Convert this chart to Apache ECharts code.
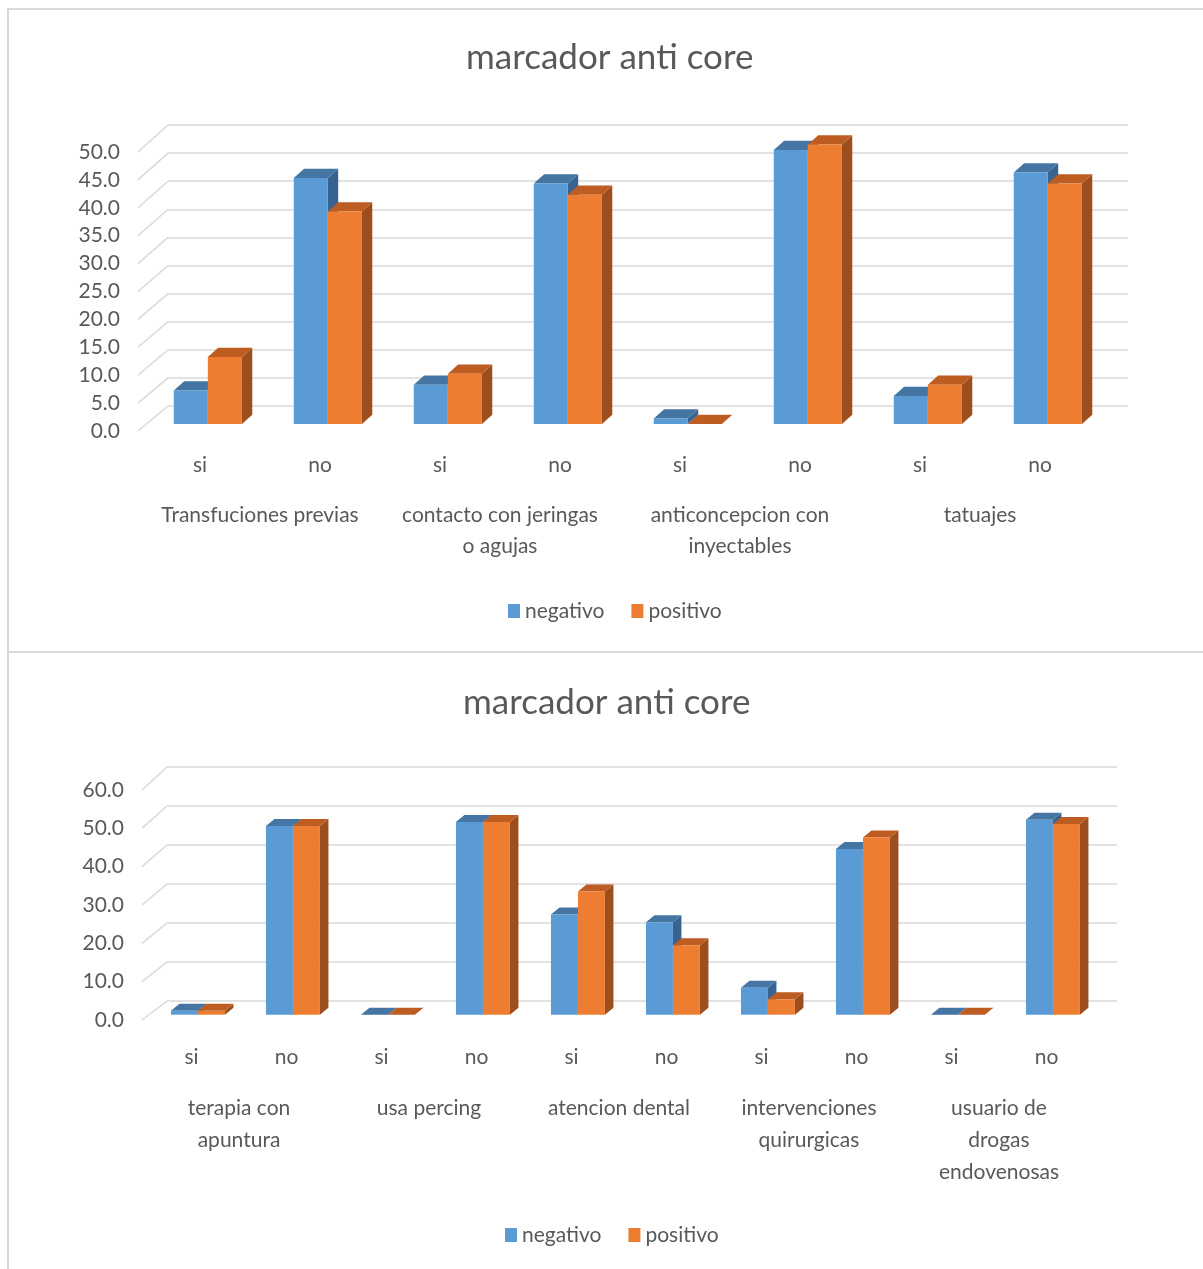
<!DOCTYPE html>
<html>
<head>
<meta charset="utf-8">
<title>marcador anti core</title>
<script src="https://cdn.jsdelivr.net/npm/echarts@6/dist/echarts.min.js"></script>
<style>
  html, body { margin: 0; padding: 0; background: #ffffff; }
  #chart { width: 1203px; height: 1269px; }
</style>
</head>
<body>
<div id="chart"></div>
<script>
// ---- data: upper chart ----
const categories1 = ['si', 'no', 'si', 'no', 'si', 'no', 'si', 'no'];
const groups1 = ['Transfuciones previas', 'contacto con jeringas\no agujas', 'anticoncepcion con\ninyectables', 'tatuajes'];
const negativo1 = [6.0, 44.0, 7.0, 43.0, 1.0, 49.0, 5.0, 45.0];
const positivo1 = [12.0, 38.0, 9.0, 41.0, 0.0, 50.0, 7.0, 43.0];
const yTicks1 = [0, 5, 10, 15, 20, 25, 30, 35, 40, 45, 50];

// ---- data: lower chart ----
const categories2 = ['si', 'no', 'si', 'no', 'si', 'no', 'si', 'no', 'si', 'no'];
const groups2 = ['terapia con\napuntura', 'usa percing', 'atencion dental', 'intervenciones\nquirurgicas', 'usuario de\ndrogas\nendovenosas'];
const negativo2 = [1.0, 49.0, 0.0, 50.0, 26.0, 24.0, 7.0, 43.0, 0.0, 50.6];
const positivo2 = [1.0, 49.0, 0.0, 50.0, 32.0, 18.0, 4.0, 46.0, 0.0, 49.5];
const yTicks2 = [0, 10, 20, 30, 40, 50, 60];

const seriesNames = ['negativo', 'positivo'];
const chartTitle = 'marcador anti core';

// ---- styling ----
const FONT = "Lato, 'Liberation Sans', sans-serif";
const TEXT = '#595959';
const GRID_LINE = '#d9d9d9';
const PALETTE = [
  { front: '#5B9BD5', top: '#4475A3', side: '#386391' },
  { front: '#ED7D31', top: '#BD5D22', side: '#9C4F1D' }
];
const BAR_FRAC = 0.284;   // width of one column relative to a category slot
const BAR_DEPTH = 0.28;   // where the column front face sits between front plane and back wall
const BAR_THICK = 0.37;   // column thickness as a fraction of the floor depth

// ---- layout of the two panels: front plane (labels) and back wall (gridlines) ----
const panels = [
  {
    front: { left: 140, top: 152, width: 960, height: 279 },
    back:  { left: 168, top: 125, width: 960, height: 281 },
    titleTop: 38, titleLeft: 466,
    catMargin: 22, groupMargin: 69, groupLine: 31,
    legendTop: 594, legendLeft: 503,
    cats: categories1, groups: groups1, neg: negativo1, pos: positivo1, ticks: yTicks1
  },
  {
    front: { left: 144, top: 790, width: 950, height: 230 },
    back:  { left: 167, top: 767, width: 950, height: 234 },
    titleTop: 683, titleLeft: 463,
    catMargin: 25, groupMargin: 72, groupLine: 32,
    legendTop: 1218, legendLeft: 500,
    cats: categories2, groups: groups2, neg: negativo2, pos: positivo2, ticks: yTicks2
  }
];

function lerp(a, b, t) { return a + (b - a) * t; }

const option = {
  backgroundColor: '#ffffff',
  animation: false,
  textStyle: { fontFamily: FONT, color: TEXT },
  title: [], legend: [], grid: [], xAxis: [], yAxis: [], series: [],
  graphic: [
    { type: 'rect', silent: true, shape: { x: 8, y: 9, width: 1230, height: 643 },
      style: { fill: 'none', stroke: GRID_LINE, lineWidth: 2 } },
    { type: 'rect', silent: true, shape: { x: 8, y: 652, width: 1230, height: 650 },
      style: { fill: 'none', stroke: GRID_LINE, lineWidth: 2 } }
  ]
};

panels.forEach(function (p, k) {
  const F = p.front, B = p.back;
  const yMin = p.ticks[0], yMax = p.ticks[p.ticks.length - 1];
  const yStep = p.ticks[1] - p.ticks[0];
  // column plane sits partway between front plane and back wall
  const fb = F.top + F.height, bb = B.top + B.height;
  const barTop = lerp(F.top, B.top, BAR_DEPTH);
  const barBottom = lerp(fb, bb, BAR_DEPTH);
  const barGrid = {
    left: lerp(F.left, B.left, BAR_DEPTH), top: barTop,
    width: F.width, height: barBottom - barTop
  };
  const depth = { dx: (B.left - F.left) * BAR_THICK, dy: (bb - fb) * BAR_THICK };

  const gBack = option.grid.length;
  option.grid.push(Object.assign({ outerBoundsMode: 'none', containLabel: false }, B));
  const gFront = option.grid.length;
  option.grid.push(Object.assign({ outerBoundsMode: 'none', containLabel: false }, F));
  const gBar = option.grid.length;
  option.grid.push(Object.assign({ outerBoundsMode: 'none', containLabel: false }, barGrid));

  option.title.push({
    text: chartTitle, left: p.titleLeft, top: p.titleTop, padding: 0,
    textStyle: { fontFamily: FONT, fontSize: 35, fontWeight: 'normal', color: TEXT, lineHeight: 40 }
  });
  option.legend.push({
    data: seriesNames, left: p.legendLeft, top: p.legendTop,
    icon: 'rect', itemWidth: 12, itemHeight: 14, itemGap: 27,
    textStyle: { fontFamily: FONT, fontSize: 21, color: TEXT, lineHeight: 24 },
    selectedMode: false
  });

  // back wall: horizontal gridlines
  const xBack = option.xAxis.length;
  option.xAxis.push({ type: 'category', gridIndex: gBack, data: p.cats, show: false });
  const yBack = option.yAxis.length;
  option.yAxis.push({
    type: 'value', gridIndex: gBack, min: yMin, max: yMax, interval: yStep,
    axisLine: { show: false }, axisTick: { show: false }, axisLabel: { show: false },
    splitLine: { show: true, lineStyle: { color: GRID_LINE, width: 1.5 } }
  });

  // front plane: category labels, group labels and value labels
  option.xAxis.push({
    type: 'category', gridIndex: gFront, data: p.cats, position: 'bottom',
    axisLine: { show: false }, axisTick: { show: false }, splitLine: { show: false },
    axisLabel: { interval: 0, margin: p.catMargin, fontFamily: FONT, fontSize: 21, color: TEXT, lineHeight: 24 }
  });
  option.xAxis.push({
    type: 'category', gridIndex: gFront, data: p.groups, position: 'bottom',
    axisLine: { show: false }, axisTick: { show: false }, splitLine: { show: false },
    axisLabel: { interval: 0, margin: p.groupMargin, fontFamily: FONT, fontSize: 21, color: TEXT, lineHeight: p.groupLine }
  });
  option.yAxis.push({
    type: 'value', gridIndex: gFront, min: yMin, max: yMax, interval: yStep,
    axisLine: { show: false }, axisTick: { show: false }, splitLine: { show: false },
    axisLabel: { margin: 20, fontFamily: FONT, fontSize: 21, color: TEXT,
      formatter: function (v) { return v.toFixed(1); } }
  });

  // column plane axes (hidden)
  const xBar = option.xAxis.length;
  option.xAxis.push({ type: 'category', gridIndex: gBar, data: p.cats, show: false });
  const yBar = option.yAxis.length;
  option.yAxis.push({ type: 'value', gridIndex: gBar, min: yMin, max: yMax, interval: yStep, show: false });

  // side-wall connectors: from each back gridline to the front plane
  option.series.push({
    type: 'custom', xAxisIndex: xBack, yAxisIndex: yBack, silent: true, z: 1,
    data: p.ticks.map(function (v) { return [0, v]; }),
    renderItem: function (params, api) {
      const pt = api.coord([0, api.value(1)]);
      const cs = params.coordSys;
      const t = (cs.y + cs.height - pt[1]) / cs.height;
      const fy = F.top + F.height * (1 - t);
      return {
        type: 'line',
        shape: { x1: F.left - 2, y1: fy, x2: cs.x, y2: pt[1] },
        style: { stroke: GRID_LINE, lineWidth: 1.5 }
      };
    }
  });

  // 3D clustered columns
  [p.neg, p.pos].forEach(function (values, s) {
    const col = PALETTE[s];
    option.series.push({
      name: seriesNames[s], type: 'custom', xAxisIndex: xBar, yAxisIndex: yBar, z: 3,
      itemStyle: { color: col.front },
      encode: { x: 0, y: 1 },
      data: values.map(function (v, i) { return [i, v]; }),
      renderItem: function (params, api) {
        const i = api.value(0), v = api.value(1);
        const b = api.coord([i, 0]);
        const t = api.coord([i, v]);
        const w = api.size([1, 0])[0] * BAR_FRAC;
        const x0 = b[0] - w + s * w, x1 = x0 + w;
        const yb = b[1], yt = t[1];
        const dx = depth.dx, dy = depth.dy;
        return {
          type: 'group',
          children: [
            { type: 'polygon', shape: { points: [[x1, yt], [x1 + dx, yt + dy], [x1 + dx, yb + dy], [x1, yb]] },
              style: { fill: col.side } },
            { type: 'polygon', shape: { points: [[x0, yt], [x1, yt], [x1 + dx, yt + dy], [x0 + dx, yt + dy]] },
              style: { fill: col.top } },
            { type: 'rect', shape: { x: x0, y: yt, width: w, height: Math.max(0, yb - yt) },
              style: { fill: col.front } }
          ]
        };
      }
    });
  });
});

const chart = echarts.init(document.getElementById('chart'), null, { renderer: 'canvas' });
chart.setOption(option);
</script>
</body>
</html>
